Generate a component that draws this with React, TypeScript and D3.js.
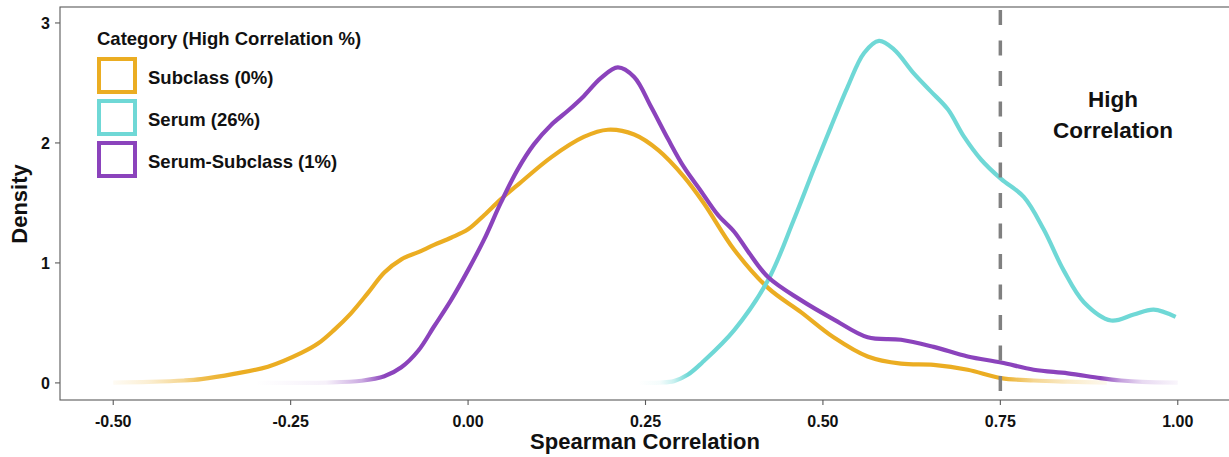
import React from "react";
import * as d3 from "d3";

// values
const subclassX = [-0.5, -0.45, -0.4, -0.376, -0.33, -0.282, -0.235, -0.211, -0.189, -0.165, -0.141, -0.118, -0.094, -0.07, -0.048, -0.024, 0, 0.023, 0.046, 0.07, 0.117, 0.163, 0.197, 0.234, 0.268, 0.304, 0.332, 0.375, 0.423, 0.469, 0.515, 0.563, 0.61, 0.656, 0.704, 0.751, 0.797, 0.845, 0.9];
const subclassY = [0.002, 0.008, 0.02, 0.032, 0.075, 0.135, 0.25, 0.33, 0.44, 0.58, 0.75, 0.92, 1.03, 1.09, 1.15, 1.21, 1.28, 1.4, 1.53, 1.65, 1.88, 2.05, 2.11, 2.07, 1.94, 1.72, 1.5, 1.11, 0.79, 0.59, 0.38, 0.22, 0.16, 0.15, 0.11, 0.04, 0.02, 0.01, 0.003];

const serumX = [0.24, 0.27, 0.29, 0.31, 0.33, 0.375, 0.423, 0.459, 0.487, 0.511, 0.535, 0.558, 0.579, 0.6, 0.628, 0.652, 0.676, 0.699, 0.723, 0.751, 0.783, 0.811, 0.839, 0.868, 0.906, 0.938, 0.966, 0.997];
const serumY = [0.0, 0.003, 0.015, 0.07, 0.17, 0.44, 0.86, 1.36, 1.78, 2.13, 2.47, 2.75, 2.85, 2.78, 2.58, 2.43, 2.28, 2.05, 1.86, 1.7, 1.55, 1.28, 0.94, 0.67, 0.52, 0.57, 0.61, 0.55];

const mixX = [-0.3, -0.2, -0.15, -0.118, -0.094, -0.07, -0.048, -0.024, 0, 0.023, 0.046, 0.07, 0.093, 0.117, 0.141, 0.163, 0.187, 0.211, 0.234, 0.258, 0.282, 0.304, 0.328, 0.352, 0.375, 0.394, 0.423, 0.469, 0.515, 0.563, 0.61, 0.656, 0.704, 0.751, 0.797, 0.845, 0.891, 0.92, 0.95, 1.0];
const mixY = [0, 0.003, 0.018, 0.055, 0.13, 0.27, 0.47, 0.69, 0.94, 1.2, 1.5, 1.78, 1.99, 2.15, 2.27, 2.39, 2.54, 2.63, 2.55, 2.3, 2.03, 1.8, 1.6, 1.4, 1.26, 1.1, 0.88, 0.69, 0.53, 0.38, 0.36, 0.3, 0.22, 0.17, 0.11, 0.08, 0.04, 0.02, 0.008, 0.002];

const seriesNames = ["Subclass (0%)", "Serum (26%)", "Serum-Subclass (1%)"];
const seriesColors = ["#EBAD22", "#6FD8D6", "#8B43BC"];
const xTicks = [-0.5, -0.25, 0, 0.25, 0.5, 0.75, 1.0];
const yTicks = [0, 1, 2, 3];
const threshold = 0.75;

const W = 1229;
const H = 457;
const font = "'Liberation Sans', Arial, sans-serif";

export default function App() {
  const x = d3.scaleLinear().domain([-0.575, 1.075]).range([60, 1231]);
  const y = d3.scaleLinear().domain([-0.1425, 3.133]).range([400, 7]);

  const series = [
    { xs: subclassX, ys: subclassY },
    { xs: serumX, ys: serumY },
    { xs: mixX, ys: mixY },
  ];

  const line = d3
    .line<[number, number]>()
    .x((d) => x(d[0]))
    .y((d) => y(d[1]))
    .curve(d3.curveCatmullRom.alpha(0.5));

  return (
    <svg width={W} height={H} style={{ position: "absolute", left: 0, top: 0, background: "#fff" }} fontFamily={font}>
      <defs>
        {series.map((s, i) => {
          const x0 = s.xs[0];
          const x1 = s.xs[s.xs.length - 1];
          return (
            <linearGradient key={i} id={"fade" + i} gradientUnits="userSpaceOnUse" x1={x(x0)} x2={x(x1)} y1={0} y2={0}>
              {s.xs.map((v, j) => (
                <stop key={j} offset={(v - x0) / (x1 - x0)} stopColor={seriesColors[i]} stopOpacity={Math.min(1, s.ys[j] / 0.04)} />
              ))}
            </linearGradient>
          );
        })}
      </defs>

      {/* panel border */}
      <rect x={60} y={7} width={1171} height={393} fill="none" stroke="#5a5a5a" strokeWidth={1.1} />

      {/* curves */}
      {series.map((s, i) => (
        <path
          key={i}
          d={line(s.xs.map((v, j) => [v, s.ys[j]] as [number, number])) || ""}
          fill="none"
          stroke={`url(#fade${i})`}
          strokeWidth={4.2}
          strokeLinejoin="round"
        />
      ))}

      {/* threshold */}
      <line x1={x(threshold)} x2={x(threshold)} y1={10} y2={400} stroke="#808080" strokeWidth={3.5} strokeDasharray="15 15.5" />

      <text x={1113} y={107} textAnchor="middle" fontSize={22.5} fontWeight="bold" fill="#111">High</text>
      <text x={1113} y={138} textAnchor="middle" fontSize={22.5} fontWeight="bold" fill="#111">Correlation</text>

      {/* x axis */}
      {xTicks.map((t) => (
        <g key={t}>
          <line x1={x(t)} x2={x(t)} y1={400} y2={405} stroke="#5a5a5a" strokeWidth={1.1} />
          <text x={x(t)} y={427} textAnchor="middle" fontSize={16} fontWeight="bold" fill="#111">
            {t.toFixed(2)}
          </text>
        </g>
      ))}
      <text x={645} y={449} textAnchor="middle" fontSize={22} fontWeight="bold" fill="#111">Spearman Correlation</text>

      {/* y axis */}
      {yTicks.map((t) => (
        <g key={t}>
          <line x1={55} x2={60} y1={y(t)} y2={y(t)} stroke="#5a5a5a" strokeWidth={1.1} />
          <text x={50} y={y(t) + 6} textAnchor="end" fontSize={16} fontWeight="bold" fill="#111">
            {t}
          </text>
        </g>
      ))}
      <text transform="translate(27,204) rotate(-90)" textAnchor="middle" fontSize={22} fontWeight="bold" fill="#111">Density</text>

      {/* legend */}
      <text x={97} y={45} fontSize={18.5} fontWeight="bold" fill="#111">Category (High Correlation %)</text>
      {seriesNames.map((n, i) => (
        <g key={n}>
          <rect x={99} y={59 + i * 42} width={36} height={33} fill="#fff" stroke={seriesColors[i]} strokeWidth={4} />
          <text x={148} y={83.5 + i * 42.3} fontSize={18.5} fontWeight="bold" fill="#111">{n}</text>
        </g>
      ))}
    </svg>
  );
}
